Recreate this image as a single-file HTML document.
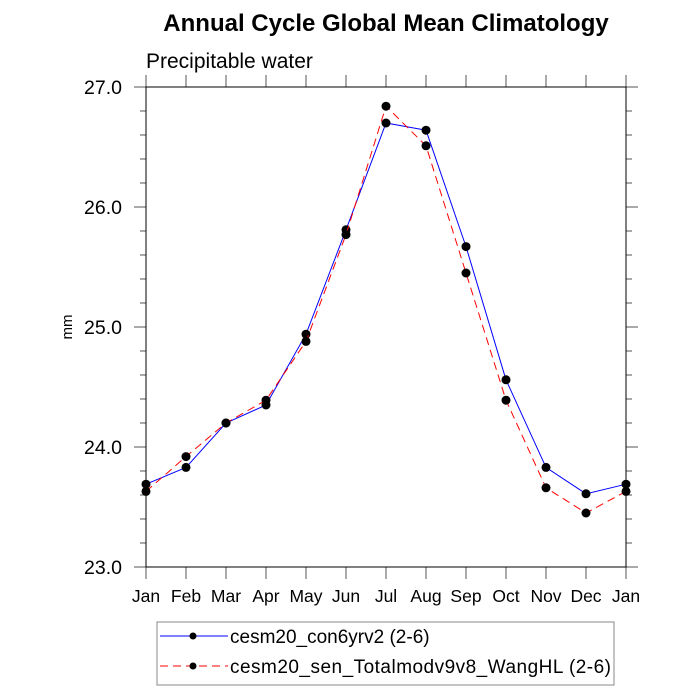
<!DOCTYPE html>
<html><head><meta charset="utf-8"><style>
body{margin:0;background:#fff}
svg{display:block;font-family:"Liberation Sans",sans-serif}
</style></head><body>
<svg id="c" width="700" height="700" viewBox="0 0 700 700">
<text x="386" y="31" text-anchor="middle" font-size="24" font-weight="bold">Annual Cycle Global Mean Climatology</text>
<text x="146" y="68" font-size="21">Precipitable water</text>
<text transform="translate(72,327) rotate(-90)" text-anchor="middle" font-size="15">mm</text>
<g id="axes"></g>
<g id="series"></g>
<g>
<rect x="157" y="622" width="457" height="63" fill="none" stroke="#888" stroke-width="1"/>
<line x1="160" y1="636" x2="228" y2="636" stroke="#00f" stroke-width="1"/>
<circle cx="193" cy="636" r="3.5" fill="#000"/>
<text x="230" y="643" font-size="19">cesm20_con6yrv2 (2-6)</text>
<line x1="160" y1="666" x2="228" y2="666" stroke="#f00" stroke-width="1" stroke-dasharray="8,5"/>
<circle cx="193" cy="666" r="3.5" fill="#000"/>
<text x="230" y="673" font-size="19" textLength="381" lengthAdjust="spacing">cesm20_sen_Totalmodv9v8_WangHL (2-6)</text>
</g>
</svg>
<script>
const months=["Jan","Feb","Mar","Apr","May","Jun","Jul","Aug","Sep","Oct","Nov","Dec","Jan"];
const con6yrv2=[23.69,23.83,24.20,24.35,24.94,25.81,26.70,26.64,25.67,24.56,23.83,23.61,23.69];
const wanghl=[23.63,23.92,24.20,24.39,24.88,25.77,26.84,26.51,25.45,24.39,23.66,23.45,23.63];
const yTicks=[23.0,24.0,25.0,26.0,27.0];
const yTickLabels=["23.0","24.0","25.0","26.0","27.0"];
const X0=146,X1=626,Y0=567,Y1=87,ymin=23,ymax=27;
const xs=i=>X0+(X1-X0)*i/(months.length-1);
const ys=v=>Y0-(v-ymin)/(ymax-ymin)*(Y0-Y1);
const NS="http://www.w3.org/2000/svg";
function mk(p,t,a){const e=document.createElementNS(NS,t);for(const k in a)e.setAttribute(k,a[k]);p.appendChild(e);return e;}
const ax=document.getElementById('axes');
const TC='#555';
months.forEach((m,i)=>{
  const x=xs(i);
  mk(ax,'line',{x1:x,y1:Y0,x2:x,y2:Y0+12,stroke:TC});
  mk(ax,'line',{x1:x,y1:Y1,x2:x,y2:Y1-12,stroke:TC});
  const t=mk(ax,'text',{x:x,y:Y0+35,'text-anchor':'middle','font-size':17.5});
  t.textContent=m;
  
  
});
for(let v=ymin;v<=ymax+1e-9;v+=0.2){
  const y=ys(v);const major=Math.abs(v-Math.round(v))<1e-6;const L=major?12:6;
  mk(ax,'line',{x1:X0-L,y1:y,x2:X0,y2:y,stroke:TC});
  mk(ax,'line',{x1:X1,y1:y,x2:X1+L,y2:y,stroke:TC});
}
let fr=mk(ax,'rect',{x:X0,y:Y1,width:X1-X0,height:Y0-Y1,fill:'none',stroke:'#000','stroke-width':1});


yTicks.forEach((v,i)=>{
  const t=mk(ax,'text',{x:122,y:ys(v)+7,'text-anchor':'end','font-size':19.5});
  t.textContent=yTickLabels[i];
  
  
});
const sg=document.getElementById('series');
function draw(data,color,dash,name){
  const pl=mk(sg,'polyline',{points:data.map((v,i)=>xs(i)+','+ys(v)).join(' '),fill:'none',stroke:color,'stroke-width':1});
  if(dash)pl.setAttribute('stroke-dasharray',dash);
  
  
  data.forEach((v,i)=>{
    const c=mk(sg,'circle',{cx:xs(i),cy:ys(v),r:4.5,fill:'#000'});
    
    
  });
}
draw(con6yrv2,'#00f',null,'con6yrv2');
draw(wanghl,'#f00','8,5','wanghl');
</script>
</body></html>
